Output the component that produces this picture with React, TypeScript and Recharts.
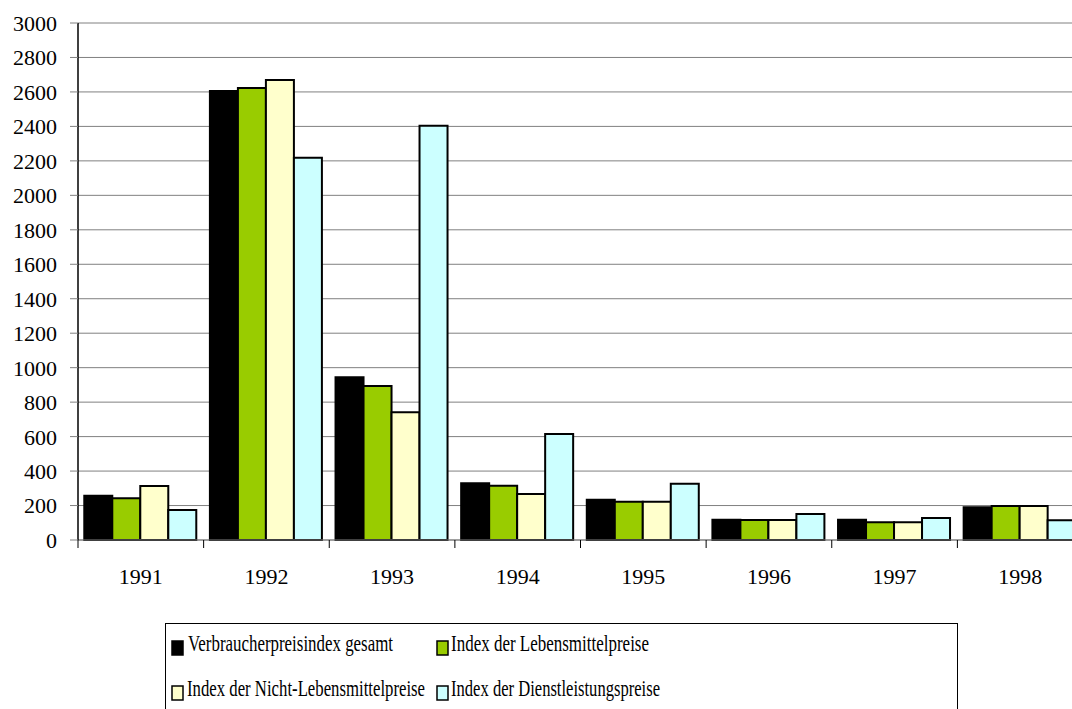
import React from "react";
import { BarChart, Bar, XAxis, YAxis, CartesianGrid } from "recharts";

const years = ["1991", "1992", "1993", "1994", "1995", "1996", "1997", "1998"];
const gesamt = [257, 2605, 944, 329, 234, 118, 118, 190];
const lebensmittel = [242, 2623, 894, 315, 222, 116, 103, 197];
const nichtLebensmittel = [313, 2669, 741, 267, 222, 116, 103, 197];
const dienstleistung = [174, 2218, 2404, 615, 327, 151, 128, 114];
const yTicks = [0, 200, 400, 600, 800, 1000, 1200, 1400, 1600, 1800, 2000, 2200, 2400, 2600, 2800, 3000];

const series = [
  { key: "gesamt", name: "Verbraucherpreisindex gesamt", color: "#000000", values: gesamt },
  { key: "lebensmittel", name: "Index der Lebensmittelpreise", color: "#99CC00", values: lebensmittel },
  { key: "nicht", name: "Index der Nicht-Lebensmittelpreise", color: "#FFFFCC", values: nichtLebensmittel },
  { key: "dienst", name: "Index der Dienstleistungspreise", color: "#CCFFFF", values: dienstleistung },
];

const data = years.map((y, i) => {
  const row: Record<string, any> = { year: y };
  series.forEach((s) => (row[s.key] = s.values[i]));
  return row;
});

const FONT = "'Liberation Serif', 'Times New Roman', Times, serif";

const XTick = (props: any) => {
  const { x, y, payload } = props;
  const off = payload && payload.offset ? payload.offset : 0;
  return (
    <g>
      <line x1={x - off} x2={x - off} y1={y - 8} y2={y} stroke="#000" strokeWidth={1} />
      <text x={x} y={y + 36} textAnchor="middle" style={{ fontFamily: FONT }} fontSize={22} fill="#000">
        {payload.value}
      </text>
    </g>
  );
};

const YTick = (props: any) => {
  const { x, y, payload } = props;
  return (
    <text x={x} y={y} dy="0.36em" textAnchor="end" style={{ fontFamily: FONT }} fontSize={22} fill="#000">
      {payload.value}
    </text>
  );
};

const legendLayout = [
  { mx: 172, my: 641, tx: 188, ty: 651, tl: 205 },
  { mx: 437, my: 641, tx: 451, ty: 651, tl: 198 },
  { mx: 172, my: 686, tx: 187, ty: 696, tl: 238 },
  { mx: 437, my: 686, tx: 451, ty: 696, tl: 209 },
];

export default function App() {
  return (
    <div style={{ position: "absolute", left: 0, top: 0, width: 1072, height: 709, overflow: "hidden", background: "#fff", fontFamily: FONT }}>
      <BarChart
        width={1100}
        height={709}
        data={data}
        margin={{ top: 23, right: 17, left: 0, bottom: 109 }}
        barCategoryGap="5%"
        barGap={0}
      >
        <CartesianGrid vertical={false} stroke="#808080" strokeWidth={1} />
        <XAxis
          dataKey="year"
          height={60}
          axisLine={{ stroke: "#808080", strokeWidth: 1 }}
          tickLine={false}
          tickSize={8}
          tickMargin={0}
          tick={<XTick />}
          interval={0}
        />
        <YAxis
          width={78}
          domain={[0, 3000]}
          ticks={yTicks}
          interval={0}
          axisLine={{ stroke: "#000", strokeWidth: 1.5 }}
          tickLine={{ stroke: "#808080" }}
          tickSize={8}
          tickMargin={13}
          tick={<YTick />}
        />
        {series.map((s) => (
          <Bar
            key={s.key}
            dataKey={s.key}
            name={s.name}
            fill={s.color}
            stroke="#000"
            strokeWidth={2}
            isAnimationActive={false}
          />
        ))}
      </BarChart>
      <svg width={1072} height={709} style={{ position: "absolute", left: 0, top: 0, pointerEvents: "none" }}>
        <rect x={165.5} y={623.5} width={792} height={100} fill="none" stroke="#000" strokeWidth={1} />
        {series.map((s, i) => {
          const l = legendLayout[i];
          return (
            <g key={s.key}>
              <rect x={l.mx} y={l.my} width={11} height={14} fill={s.color} stroke="#000" strokeWidth={1.5} />
              <text
                x={l.tx}
                y={l.ty}
                style={{ fontFamily: FONT }}
                fontSize={24}
                fill="#000"
                textLength={l.tl}
                lengthAdjust="spacingAndGlyphs"
              >
                {s.name}
              </text>
            </g>
          );
        })}
      </svg>
    </div>
  );
}
